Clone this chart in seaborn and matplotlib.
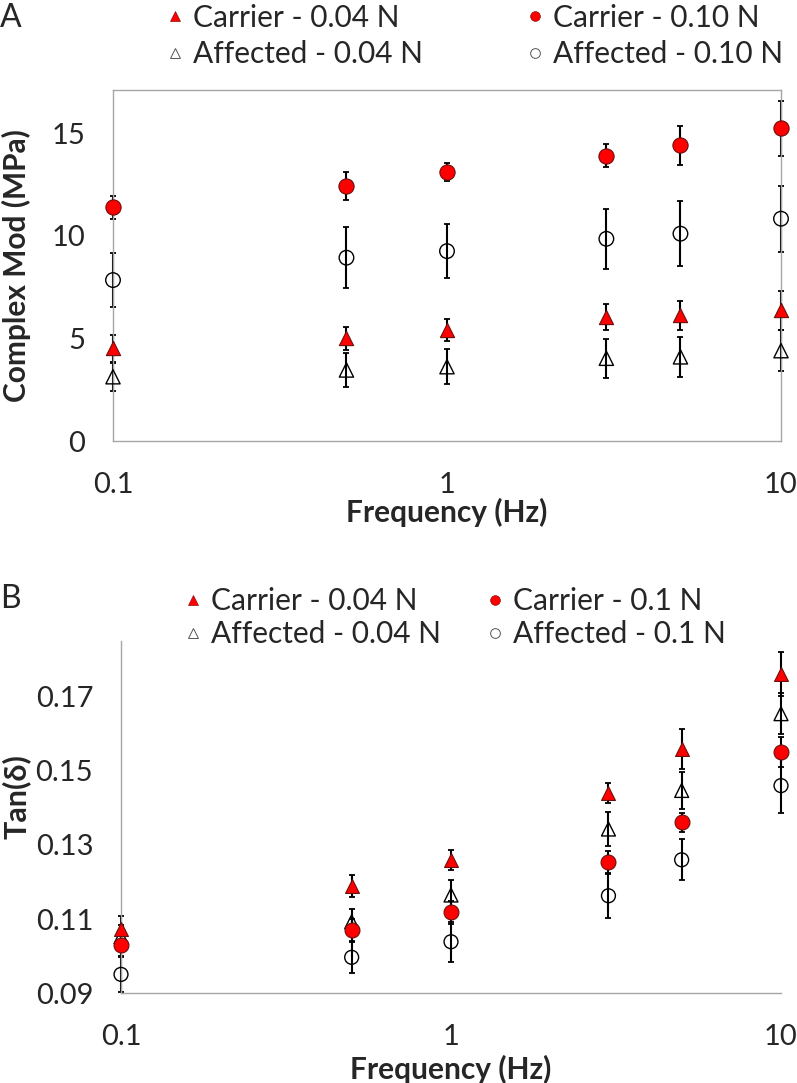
import numpy as np
import pandas as pd
import matplotlib
matplotlib.use("Agg")
import matplotlib.pyplot as plt
from matplotlib.lines import Line2D
import seaborn as sns

freq = [0.1, 0.5, 1, 3, 5, 10]

# panel A - complex modulus (MPa)
mod_carrier_004 = [4.51, 5.00, 5.41, 6.05, 6.12, 6.38]
mod_carrier_004_err = [0.67, 0.55, 0.55, 0.63, 0.70, 0.95]
mod_affected_004 = [3.13, 3.46, 3.62, 4.03, 4.10, 4.40]
mod_affected_004_err = [0.68, 0.82, 0.85, 0.95, 0.97, 1.00]
mod_carrier_010 = [11.38, 12.42, 13.12, 13.90, 14.42, 15.23]
mod_carrier_010_err = [0.55, 0.67, 0.43, 0.56, 0.95, 1.34]
mod_affected_010 = [7.84, 8.93, 9.25, 9.85, 10.10, 10.83]
mod_affected_010_err = [1.30, 1.50, 1.30, 1.47, 1.57, 1.60]

# panel B - tan(delta)
tan_carrier_004 = [0.1073, 0.1190, 0.1260, 0.1441, 0.1559, 0.1761]
tan_carrier_004_err = [0.0036, 0.0030, 0.0027, 0.0027, 0.0055, 0.0058]
tan_affected_004 = [0.1053, 0.1093, 0.1165, 0.1343, 0.1447, 0.1654]
tan_affected_004_err = [0.0030, 0.0035, 0.0040, 0.0045, 0.0050, 0.0055]
tan_carrier_010 = [0.1030, 0.1071, 0.1118, 0.1255, 0.1361, 0.1550]
tan_carrier_010_err = [0.0030, 0.0030, 0.0030, 0.0030, 0.0025, 0.0040]
tan_affected_010 = [0.0951, 0.0997, 0.1039, 0.1163, 0.1260, 0.1460]
tan_affected_010_err = [0.0048, 0.0041, 0.0054, 0.0060, 0.0055, 0.0074]

sns.set_theme(style="white")
plt.rcParams["font.family"] = ["Lato", "DejaVu Sans"]

RED = "#FF0000"
GREY = "#A6A6A6"
W, H = 797, 1083

fig = plt.figure(figsize=(W / 100, H / 100), dpi=100)
axA = fig.add_axes([113 / W, 1 - 441 / H, (781 - 113) / W, (441 - 90) / H])
axB = fig.add_axes([121 / W, 1 - 993.3 / H, (781 - 121) / W, (993.3 - 641) / H])


def draw_series(ax, y, err, marker, filled, size):
    df = pd.DataFrame({"freq": freq, "val": y})
    eb = ax.errorbar(df["freq"], df["val"], yerr=err, fmt="none", ecolor="black",
                     elinewidth=1.5, capsize=2.3, capthick=1.3, zorder=2)
    for art in eb.get_children():
        art.set_clip_on(False)
    if filled:
        sns.scatterplot(data=df, x="freq", y="val", ax=ax, marker=marker, s=size,
                        color=RED, edgecolor="#6a1010", linewidth=0.8, zorder=3,
                        clip_on=False)
    else:
        sns.scatterplot(data=df, x="freq", y="val", ax=ax, marker=marker, s=size,
                        facecolor="none", edgecolor="black", linewidth=1.0, zorder=3,
                        clip_on=False)


draw_series(axA, mod_affected_004, mod_affected_004_err, "^", False, 105)
draw_series(axA, mod_affected_010, mod_affected_010_err, "o", False, 110)
draw_series(axA, mod_carrier_004, mod_carrier_004_err, "^", True, 105)
draw_series(axA, mod_carrier_010, mod_carrier_010_err, "o", True, 120)

draw_series(axB, tan_affected_010, tan_affected_010_err, "o", False, 100)
draw_series(axB, tan_affected_004, tan_affected_004_err, "^", False, 100)
draw_series(axB, tan_carrier_010, tan_carrier_010_err, "o", True, 115)
draw_series(axB, tan_carrier_004, tan_carrier_004_err, "^", True, 100)

for ax in (axA, axB):
    ax.set_xscale("log")
    ax.set_xlim(0.1, 10)
    ax.set_xticks([0.1, 1, 10])
    ax.set_xticklabels(["0.1", "1", "10"])
    ax.minorticks_off()
    ax.tick_params(axis="both", length=0, labelsize=21)
    ax.tick_params(axis="x", pad=22)
    ax.tick_params(axis="y", pad=20)
    ax.set_xlabel("Frequency (Hz)", fontsize=21.5, fontweight="bold")
    ax.xaxis.label.set_va("center")
    ax.yaxis.label.set_va("center")
    for sp in ax.spines.values():
        sp.set_color(GREY)
        sp.set_linewidth(1.0)

axA.set_ylim(0, 17.1)
axA.set_yticks([0, 5, 10, 15])
axA.set_ylabel("Complex Mod (MPa)", fontsize=21.5, fontweight="bold")
axA.xaxis.set_label_coords(0.5, (441 - 512) / 351)
axA.yaxis.set_label_coords((16 - 113) / 668, 0.5)

axB.set_ylim(0.09, 0.185)
axB.set_yticks([0.09, 0.11, 0.13, 0.15, 0.17])
axB.set_yticklabels(["0.09", "0.11", "0.13", "0.15", "0.17"])
axB.set_ylabel("Tan(δ)", fontsize=22, fontweight="bold")
axB.xaxis.set_label_coords(0.5, (993.3 - 1069) / 352.3)
axB.yaxis.set_label_coords((16 - 121) / 660, (993.3 - 797) / 352.3)
axB.spines["top"].set_visible(False)
axB.spines["right"].set_visible(False)

h_car004 = Line2D([], [], ls="none", marker="^", ms=7, mfc=RED, mec="#8a1010", mew=0.5)
h_aff004 = Line2D([], [], ls="none", marker="^", ms=7, mfc="none", mec="#555555", mew=0.7)
h_car010 = Line2D([], [], ls="none", marker="o", ms=7, mfc=RED, mec="#8a1010", mew=0.5)
h_aff010 = Line2D([], [], ls="none", marker="o", ms=7, mfc="none", mec="#555555", mew=0.7)

labels_A = ["Carrier - 0.04 N", "Affected - 0.04 N", "Carrier - 0.10 N", "Affected - 0.10 N"]
labels_B = ["Carrier - 0.04 N", "Affected - 0.04 N", "Carrier - 0.1 N", "Affected - 0.1 N"]

LEG_FS = 21.5
half_handle = 0.3 * LEG_FS * 100 / 72


def column_legend(handles, labels, marker_x, center_y, spacing):
    fig.legend(handles, labels, loc="center left",
               bbox_to_anchor=((marker_x - half_handle) / W, 1 - center_y / H),
               frameon=False, fontsize=LEG_FS, handlelength=0.6, handletextpad=0.3,
               borderpad=0, borderaxespad=0, labelspacing=spacing)


column_legend([h_car004, h_aff004], labels_A[:2], 175, 36, 0.3)
column_legend([h_car010, h_aff010], labels_A[2:], 535, 36, 0.3)
column_legend([h_car004, h_aff004], labels_B[:2], 193, 617.5, 0.17)
column_legend([h_car010, h_aff010], labels_B[2:], 495, 617.5, 0.17)

fig.text(0.0, 1 - 18 / H, "A", fontsize=23, va="center", ha="left")
fig.text(0.0, 1 - 599 / H, "B", fontsize=23, va="center", ha="left")

fig.savefig("out.png", dpi=100)
